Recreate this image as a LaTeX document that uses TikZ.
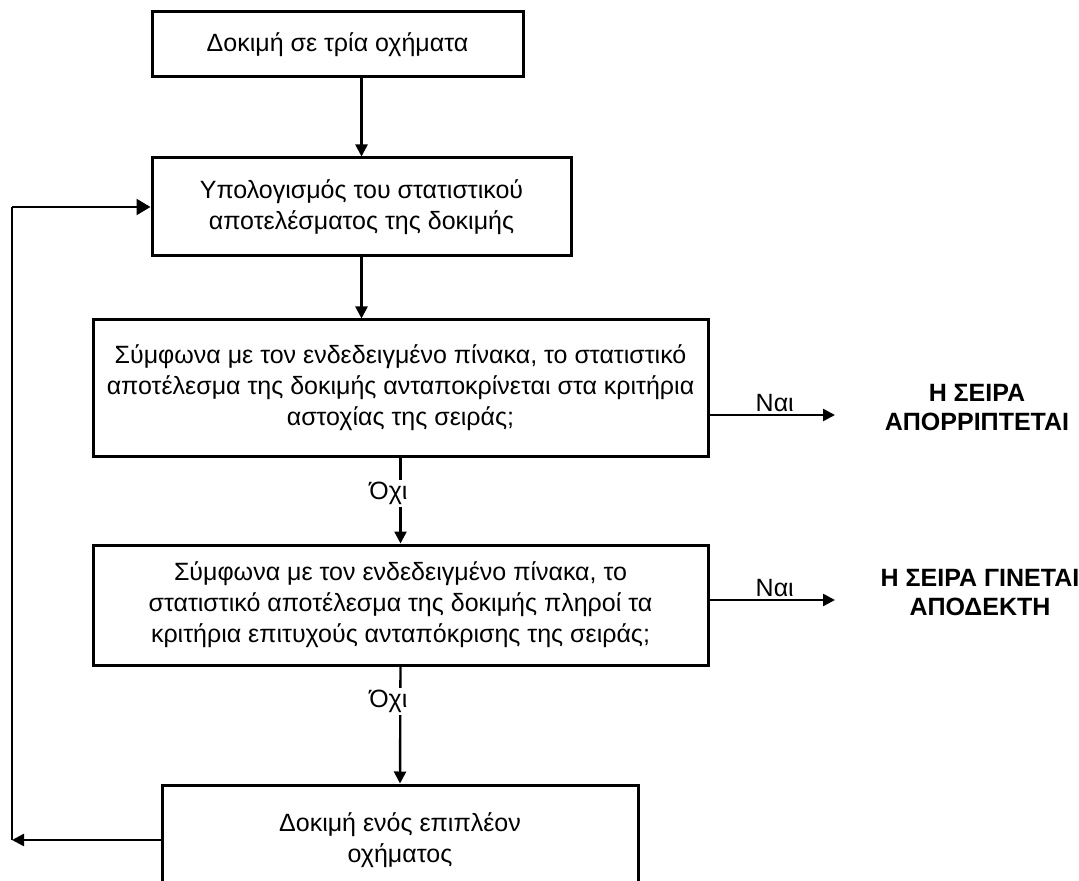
\documentclass[tikz,border=0pt]{standalone}
\usepackage{fontspec}
\setmainfont{Liberation Sans}
\usetikzlibrary{arrows.meta, calc, positioning}

\begin{document}
\begin{tikzpicture}[x=0.5pt, y=-0.5pt,
    box/.style={draw, line width=1.5pt, align=center, inner sep=0pt,
      font=\fontsize{12.5}{15.5}\selectfont},
    conn/.style={line width=1.2pt, -{Triangle[width=6pt,length=6pt]}},
    plain/.style={line width=1.2pt},
    answer/.style={font=\fontsize{12.5}{15}\selectfont, inner sep=1pt},
    verdict/.style={align=center, font=\bfseries\fontsize{12.5}{14.5}\selectfont}]
  \useasboundingbox (0,0) rectangle (1079,881);
  \clip (0,0) rectangle (1079,881);

  % boxes of the flow
  \node [box, minimum width=185.5pt, minimum height=32.5pt] (trial)  at (337.5,44.5)
    {Δοκιμή σε τρία οχήματα};
  \node [box, minimum width=209.5pt, minimum height=49pt]   (calc)   at (361.5,207)
    {Υπολογισμός του στατιστικού\\αποτελέσματος της δοκιμής};
  \node [box, minimum width=307.5pt, minimum height=68pt]   (reject) at (400.5,388)
    {Σύμφωνα με τον ενδεδειγμένο πίνακα, το στατιστικό\\
     αποτέλεσμα της δοκιμής ανταποκρίνεται στα κριτήρια\\
     αστοχίας της σειράς;};
  \node [box, minimum width=307.5pt, minimum height=60pt]   (accept) at (400.5,605)
    {Σύμφωνα με τον ενδεδειγμένο πίνακα, το\\
     στατιστικό αποτέλεσμα της δοκιμής πληροί τα\\
     κριτήρια επιτυχούς ανταπόκρισης της σειράς;};
  \node [box, minimum width=238pt, minimum height=55pt]     (extra)  at (400,840)
    {Δοκιμή ενός επιπλέον\\οχήματος};

  % outcomes
  \node [verdict] (failed) at (977,408) {Η ΣΕΙΡΑ\\ΑΠΟΡΡΙΠΤΕΤΑΙ};
  \node [verdict] (passed) at (980,593) {Η ΣΕΙΡΑ ΓΙΝΕΤΑΙ\\ΑΠΟΔΕΚΤΗ};

  \coordinate (yesA) at (835,415);
  \coordinate (yesB) at (835,600);
  \coordinate (loopB) at (12,840);
  \coordinate (loopT) at (12,207);

  % connectors
  \draw [conn] (calc.north |- trial.south) -- (calc.north);
  \draw [conn] (calc.south) -- (calc.south |- reject.north);
  \draw [conn] (reject.south) -- node [answer, fill=white, pos=0.42, xshift=-6pt] {Όχι} (accept.north);
  \draw [conn] (accept.south) -- node [answer, fill=white, pos=0.3, xshift=-6pt] {Όχι} (extra.north);

  \draw [conn] (reject.east |- yesA) -- node [answer, above, pos=0.52] {Ναι} (yesA);
  \draw [conn] (accept.east |- yesB) -- node [answer, above, pos=0.52] {Ναι} (yesB);

  \draw [conn] (extra.west) -- (loopB);
  \draw [plain] (loopB) -- (loopT);
  \draw [line width=1.2pt, -{Triangle[width=8pt,length=7pt]}] (loopT) -- (calc.west);
\end{tikzpicture}
\end{document}
